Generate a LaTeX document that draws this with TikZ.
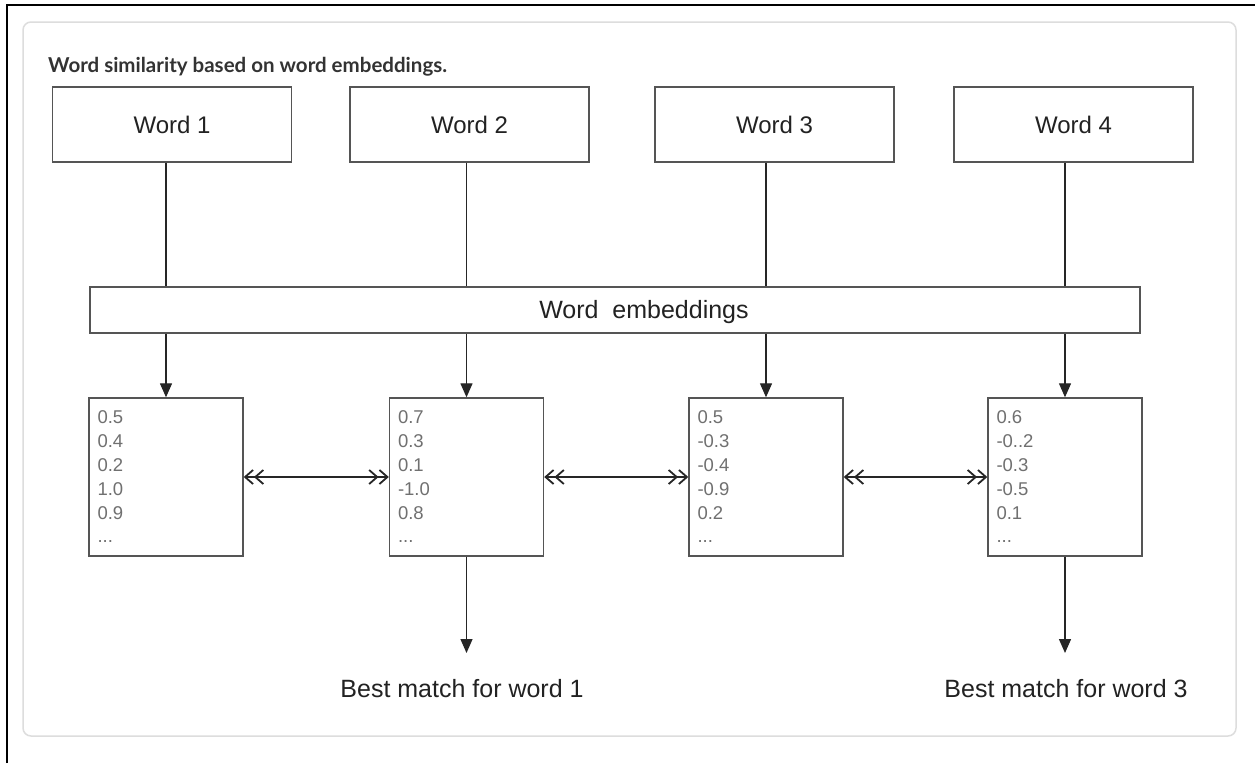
\documentclass[tikz,border=0pt]{standalone}
\usepackage{fontspec}
\setmainfont{Liberation Sans}
\newfontfamily\titlefont{Lato}
\usetikzlibrary{arrows.meta,calc}
\definecolor{boxline}{HTML}{555555}
\definecolor{textdark}{HTML}{222222}
\definecolor{numgray}{HTML}{707070}
\definecolor{titlegray}{HTML}{333333}
\definecolor{framegray}{HTML}{DDDDDD}
\tikzset{
  wordbox/.style={draw=boxline, line width=1.4pt, minimum width=239pt, minimum height=75pt, inner sep=0pt, font=\fontsize{24}{28}\selectfont, text=textdark},
  vecbox/.style={draw=boxline, line width=1.4pt, minimum width=154pt, minimum height=158pt, inner sep=0pt},
  vectext/.style={anchor=north west, align=left, inner sep=0pt, text=numgray, font=\fontsize{18.5}{23.8}\selectfont},
  conn/.style={draw=black!85, line width=1.3pt},
  downarrow/.style={conn, -{Triangle[length=14pt,width=12pt]}},
  barb/.style={},
  pairarrow/.style={conn, {Straight Barb[length=8pt,width=14pt,line width=1.8pt] Straight Barb[length=8pt,width=14pt,line width=1.8pt]}-{Straight Barb[length=8pt,width=14pt,line width=1.8pt] Straight Barb[length=8pt,width=14pt,line width=1.8pt]}},
  result/.style={font=\fontsize{25}{30}\selectfont, text=textdark, inner sep=0pt, anchor=base},
}
\begin{document}
\begin{tikzpicture}[x=1pt,y=-1pt]
\useasboundingbox (0,0) rectangle (1255,763);
\fill[white] (0,0) rectangle (1255,763);
% frames
\draw[line width=2pt] (7,763) -- (7,5) -- (1255,5);
\draw[framegray, line width=1.5pt, rounded corners=8pt] (23,22) rectangle (1236,736);
% title
\node[anchor=base west, inner sep=0pt, text=titlegray, font=\titlefont\bfseries\fontsize{20.5}{24}\selectfont] (title) at (48,72) {Word similarity based on word embeddings.};
% word boxes
\node[wordbox] (w1) at (172,124.5) {Word 1};
\node[wordbox] (w2) at (469.5,124.5) {Word 2};
\node[wordbox] (w3) at (774.5,124.5) {Word 3};
\node[wordbox] (w4) at (1073.5,124.5) {Word 4};
% embeddings bar
\node[draw=boxline, line width=1.4pt, minimum width=1050pt, minimum height=46pt, inner sep=0pt,
      label={[name=embt, xshift=29pt, yshift=-2pt, font=\fontsize{25}{30}\selectfont, text=textdark]center:Word\ \ embeddings}] (emb) at (615,310) {};
% vector boxes
\node[vecbox] (v1) at (166,477) {};
\node[vecbox] (v2) at (466.5,477) {};
\node[vecbox] (v3) at (766,477) {};
\node[vecbox] (v4) at (1065,477) {};
\node[vectext] (t1) at ($(v1.north west)+(9,13.5)$) {0.5\\0.4\\0.2\\1.0\\0.9\\...};
\node[vectext] (t2) at ($(v2.north west)+(9,13.5)$) {0.7\\0.3\\0.1\\-1.0\\0.8\\...};
\node[vectext] (t3) at ($(v3.north west)+(9,13.5)$) {0.5\\-0.3\\-0.4\\-0.9\\0.2\\...};
\node[vectext] (t4) at ($(v4.north west)+(9,13.5)$) {0.6\\-0..2\\-0.3\\-0.5\\0.1\\...};
% connectors word -> embeddings
\foreach \i in {1,...,4}{
  \draw[conn] (v\i.north |- w\i.south) -- (v\i.north |- emb.north);
  \draw[downarrow] (v\i.north |- emb.south) -- (v\i.north);
}
% similarity arrows
\draw[pairarrow] (v1.east) -- (v2.west);
\draw[pairarrow] (v2.east) -- (v3.west);
\draw[pairarrow] (v3.east) -- (v4.west);
% results
\coordinate (e2) at (466.5,653);
\coordinate (e4) at (1065,653);
\draw[downarrow] (v2.south) -- (e2);
\draw[downarrow] (v4.south) -- (e4);
\node[result] (r1) at (462,697) {Best match for word 1};
\node[result] (r2) at (1066,697) {Best match for word 3};
\end{tikzpicture}
\end{document}
